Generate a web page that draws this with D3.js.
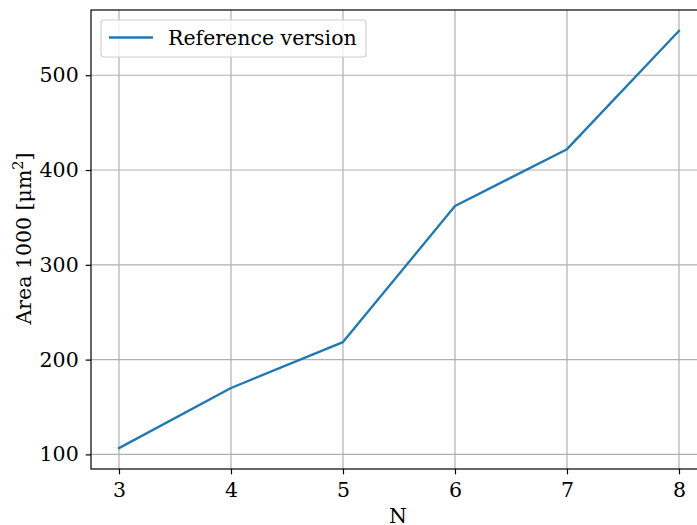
<!DOCTYPE html>
<html>
<head>
<meta charset="utf-8">
<script src="https://cdn.jsdelivr.net/npm/d3@7"></script>
<style>
  html, body { margin: 0; padding: 0; background: #fff; }
  svg { display: block; font-family: "DejaVu Serif", serif; }
</style>
</head>
<body>
<svg id="chart" width="697" height="525"></svg>
<script>
// Polygon count N against area (in units of 1000 µm²)
const nValues = [3, 4, 5, 6, 7, 8];
const areaValues = [106.6, 170, 218.5, 362, 422, 546.8];
const xTicks = [3, 4, 5, 6, 7, 8];
const yTicks = [100, 200, 300, 400, 500];
const seriesName = "Reference version";

const FONT = 20.5;
const margin = { left: 91, top: 10, right: 707, bottom: 469 };
const svg = d3.select("#chart");

const xPad = (d3.max(nValues) - d3.min(nValues)) * 0.05;
const yPad = (d3.max(areaValues) - d3.min(areaValues)) * 0.05;
const x = d3.scaleLinear()
  .domain([d3.min(nValues) - xPad, d3.max(nValues) + xPad])
  .range([margin.left, margin.right]);
const y = d3.scaleLinear()
  .domain([d3.min(areaValues) - yPad, d3.max(areaValues) + yPad])
  .range([margin.bottom, margin.top]);

// grid
const grid = svg.append("g").attr("stroke", "#b0b0b0").attr("stroke-width", 1.2);
xTicks.forEach(t => grid.append("line")
  .attr("x1", x(t)).attr("x2", x(t)).attr("y1", margin.top).attr("y2", margin.bottom));
yTicks.forEach(t => grid.append("line")
  .attr("x1", margin.left).attr("x2", margin.right).attr("y1", y(t)).attr("y2", y(t)));

// line
svg.append("path")
  .datum(nValues.map((n, i) => [n, areaValues[i]]))
  .attr("fill", "none")
  .attr("stroke", "#1f77b4")
  .attr("stroke-width", 2.3)
  .attr("stroke-linejoin", "round")
  .attr("stroke-linecap", "square")
  .attr("d", d3.line().x(d => x(d[0])).y(d => y(d[1])));

// axes
const xAxis = d3.axisBottom(x).tickValues(xTicks).tickFormat(d3.format("d"))
  .tickSize(5.3).tickPadding(8);
const yAxis = d3.axisLeft(y).tickValues(yTicks).tickFormat(d3.format("d"))
  .tickSize(5.3).tickPadding(7);

const gx = svg.append("g").attr("transform", `translate(0,${margin.bottom})`).call(xAxis);
const gy = svg.append("g").attr("transform", `translate(${margin.left},0)`).call(yAxis);
[gx, gy].forEach(g => {
  g.select(".domain").remove();
  g.selectAll(".tick line").attr("stroke", "#000").attr("stroke-width", 1.2);
  g.selectAll(".tick text").attr("fill", "#000")
    .style("font-family", "'DejaVu Serif', serif").style("font-size", FONT + "px");
});

// spines
svg.append("rect")
  .attr("x", margin.left).attr("y", margin.top)
  .attr("width", margin.right - margin.left).attr("height", margin.bottom - margin.top)
  .attr("fill", "none").attr("stroke", "#000").attr("stroke-width", 1.2);

// axis labels
svg.append("text")
  .attr("x", (margin.left + margin.right) / 2 - 1).attr("y", 523)
  .attr("text-anchor", "middle").attr("font-size", FONT).attr("fill", "#000")
  .text("N");

const yl = svg.append("text")
  .attr("transform", `translate(31,${(margin.top + margin.bottom) / 2 - 1}) rotate(-90)`)
  .attr("text-anchor", "middle").attr("font-size", FONT).attr("fill", "#000");
yl.append("tspan").text("Area 1000 [μm");
yl.append("tspan").attr("dy", -8).attr("font-size", 14.5).text("2");
yl.append("tspan").attr("dy", 8).text("]");

// legend
const lg = svg.append("g");
lg.append("rect")
  .attr("x", 101).attr("y", 20).attr("width", 265).attr("height", 37).attr("rx", 3)
  .attr("fill", "#fff").attr("fill-opacity", 0.8)
  .attr("stroke", "#d0d0d0").attr("stroke-width", 1.2);
lg.append("line")
  .attr("x1", 109).attr("x2", 153).attr("y1", 37.5).attr("y2", 37.5)
  .attr("stroke", "#1f77b4").attr("stroke-width", 2.3);
lg.append("text")
  .attr("x", 168).attr("y", 45).attr("font-size", FONT).attr("fill", "#000")
  .text(seriesName);
</script>
</body>
</html>
